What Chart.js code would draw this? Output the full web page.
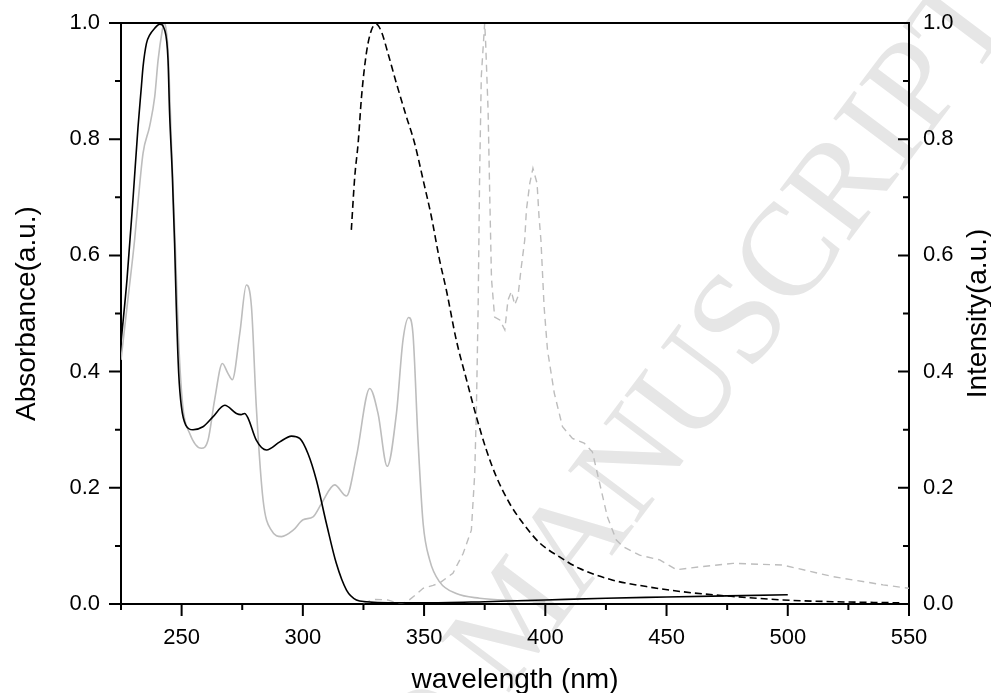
<!DOCTYPE html>
<html>
<head>
<title>Absorbance and emission spectra</title>
<script src="https://cdn.jsdelivr.net/npm/chart.js"></script>
<style>body{margin:0;background:#fff}</style>
</head>
<body>
<canvas id="spectra" width="991" height="693"></canvas>
<script>
// absorbance, black solid
const absBlackNm = [225, 227.5, 230, 232, 233.4, 234.1, 235.5, 236.8, 238.9, 241, 243, 244.4, 245, 246.2, 247.1, 247.8, 248.8, 249.9, 251.7, 254.7, 258.8, 262.9, 267.8, 272.6, 274.5, 276, 277.4, 280.8, 285, 290.5, 295.3, 298.7, 302.1, 305.6, 309.7, 313.8, 318, 322.1, 326.2, 335, 350, 375, 400, 425, 450, 475, 500];
const absBlack = [0.45, 0.56, 0.70, 0.82, 0.89, 0.925, 0.965, 0.979, 0.991, 0.998, 0.988, 0.936, 0.85, 0.735, 0.621, 0.512, 0.397, 0.34, 0.308, 0.300, 0.305, 0.322, 0.342, 0.328, 0.326, 0.328, 0.32, 0.282, 0.265, 0.279, 0.289, 0.285, 0.259, 0.213, 0.139, 0.07, 0.024, 0.007, 0.004, 0.002, 0.002, 0.004, 0.007, 0.010, 0.012, 0.014, 0.016];

// absorbance, grey solid
const absGreyNm = [225, 228, 230.6, 232, 234.1, 236.8, 238.9, 240.3, 242, 242.7, 243.4, 244.4, 245.8, 247.6, 248.8, 250.5, 253.3, 258.2, 260.9, 263.6, 266.8, 269.1, 270.9, 274, 276.7, 278.8, 280.8, 283.6, 287, 291.2, 296, 300.1, 304.2, 307.7, 313.1, 318, 322.1, 327.6, 331, 334.8, 338.6, 341.3, 343.7, 345.4, 347.5, 349.6, 352.3, 356.4, 363.3, 372.9, 386.7, 400];
const absGrey = [0.42, 0.53, 0.626, 0.69, 0.776, 0.822, 0.873, 0.936, 0.987, 1.0, 0.994, 0.953, 0.793, 0.592, 0.45, 0.34, 0.294, 0.268, 0.282, 0.351, 0.414, 0.397, 0.386, 0.466, 0.549, 0.512, 0.34, 0.179, 0.127, 0.116, 0.127, 0.145, 0.150, 0.173, 0.205, 0.186, 0.254, 0.371, 0.328, 0.237, 0.328, 0.454, 0.493, 0.466, 0.282, 0.139, 0.076, 0.038, 0.018, 0.010, 0.006, 0.004];

// emission, black dashed
const emBlackNm = [320, 321.4, 322.8, 324.2, 326.2, 328.3, 330.3, 332.4, 335.1, 338.6, 342.7, 346.1, 349.6, 353, 356.4, 359.2, 363.3, 367.5, 371.6, 375.7, 379.8, 385.3, 390.8, 397.7, 405.9, 414.2, 427.9, 441.7, 456.8, 477.4, 498, 518.6, 546];
const emBlack = [0.644, 0.735, 0.793, 0.873, 0.948, 0.988, 0.998, 0.985, 0.948, 0.896, 0.839, 0.793, 0.73, 0.667, 0.592, 0.54, 0.454, 0.386, 0.322, 0.265, 0.219, 0.173, 0.139, 0.105, 0.081, 0.061, 0.041, 0.03, 0.021, 0.013, 0.007, 0.004, 0.002];

// emission, grey dashed
const emGreyNm = [325, 330, 335, 340, 343, 346.6, 349.6, 353.7, 356.4, 361.9, 366.1, 369.5, 370.9, 371.6, 372.3, 372.9, 373.6, 375, 375.4, 376.4, 377.1, 377.8, 379.1, 381.2, 383.3, 384.6, 386, 387.4, 388.7, 390.1, 391.5, 392.2, 393.6, 394.9, 396.6, 397.4, 398.2, 399.5, 400.9, 403.7, 407.1, 411.2, 416, 419.4, 422.4, 425.6, 429.3, 432, 438.9, 447.2, 454.1, 463.7, 477.4, 498, 518.7, 539.3, 550];
const emGrey = [0.002, 0.008, 0.007, 0.0, 0.004, 0.016, 0.027, 0.032, 0.036, 0.053, 0.087, 0.127, 0.225, 0.34, 0.512, 0.735, 0.908, 1.0, 0.965, 0.85, 0.70, 0.56, 0.494, 0.489, 0.472, 0.523, 0.538, 0.515, 0.529, 0.58, 0.626, 0.678, 0.724, 0.75, 0.724, 0.667, 0.626, 0.512, 0.437, 0.363, 0.305, 0.285, 0.277, 0.262, 0.208, 0.15, 0.11, 0.099, 0.084, 0.076, 0.059, 0.064, 0.07, 0.067, 0.047, 0.033, 0.027];

const xTicks = [225, 250, 275, 300, 325, 350, 375, 400, 425, 450, 475, 500, 525, 550];
const yTicks = [0, 0.1, 0.2, 0.3, 0.4, 0.5, 0.6, 0.7, 0.8, 0.9, 1.0];

const pts = (xs, ys) => xs.map((x, i) => ({x: x, y: ys[i]}));
const FONT = '"Liberation Sans", Arial, sans-serif';

const framePlugin = {
    id: 'frame',
    beforeDraw(chart) {
        // faint watermark under everything else
        const ctx = chart.ctx;
        ctx.save();
        ctx.translate(735, 335);
        ctx.rotate(-53 * Math.PI / 180);
        ctx.font = '132px "Liberation Serif", "DejaVu Serif", serif';
        ctx.fillStyle = '#e6e6e6';
        ctx.textBaseline = 'middle';
        ctx.textAlign = 'right';
        const half = ctx.measureText('MANUSCRIPT').width / 2;
        ctx.fillText('ACCEPTED MANUSCRIPT', half, 0);
        ctx.restore();
    },
    afterDraw(chart) {
        const {ctx, chartArea: a, scales} = chart;
        ctx.save();
        ctx.strokeStyle = '#000';
        ctx.lineWidth = 2;
        ctx.beginPath();
        ctx.moveTo(a.left - 1, a.top);
        ctx.lineTo(a.right + 1, a.top);
        xTicks.forEach(v => {
            const px = scales.x.getPixelForValue(v);
            const len = v % 50 === 0 ? 12 : 6;
            ctx.moveTo(px, a.bottom);
            ctx.lineTo(px, a.bottom + len);
        });
        yTicks.forEach((v, i) => {
            const py = scales.y.getPixelForValue(v);
            ctx.moveTo(a.left, py);
            ctx.lineTo(a.left - (i % 2 === 0 ? 12 : 6), py);
            const py2 = scales.y2.getPixelForValue(v);
            ctx.moveTo(a.right, py2);
            ctx.lineTo(a.right - (i % 2 === 0 ? 11 : 6), py2);
        });
        ctx.stroke();

        // axis titles
        ctx.fillStyle = '#000';
        ctx.font = '28px ' + FONT;
        ctx.textAlign = 'center';
        ctx.textBaseline = 'alphabetic';
        ctx.fillText('wavelength (nm)', (a.left + a.right) / 2, 688);
        const midY = (a.top + a.bottom) / 2;
        ctx.save();
        ctx.translate(35, midY);
        ctx.rotate(-Math.PI / 2);
        ctx.fillText('Absorbance(a.u.)', 0, 0);
        ctx.restore();
        ctx.save();
        ctx.translate(986, midY);
        ctx.rotate(-Math.PI / 2);
        ctx.fillText('Intensity(a.u.)', 0, 0);
        ctx.restore();
        ctx.restore();
    }
};

const yLabel = v => Math.round(v * 10) % 2 === 0 ? v.toFixed(1) : '';
// fixed axis boxes so the plot area sits where the original has it
const fixY = w => s => { s.width = w; s.paddingTop = 0; s.paddingBottom = 0; };

new Chart(document.getElementById('spectra'), {
    type: 'line',
    data: {
        datasets: [
            {data: pts(absBlackNm, absBlack), yAxisID: 'y', borderColor: '#000', borderWidth: 1.6, cubicInterpolationMode: 'monotone'},
            {data: pts(absGreyNm, absGrey), yAxisID: 'y', borderColor: '#bdbdbd', borderWidth: 1.6, cubicInterpolationMode: 'monotone'},
            {data: pts(emBlackNm, emBlack), yAxisID: 'y2', borderColor: '#000', borderWidth: 1.6, borderDash: [7, 4], cubicInterpolationMode: 'monotone'},
            {data: pts(emGreyNm, emGrey), yAxisID: 'y2', borderColor: '#bdbdbd', borderWidth: 1.4, borderDash: [7, 5], tension: 0}
        ]
    },
    options: {
        responsive: false,
        animation: false,
        devicePixelRatio: 1,
        layout: {padding: {top: 23, left: 0, right: 0, bottom: 0}},
        elements: {point: {radius: 0}},
        plugins: {legend: {display: false}, tooltip: {enabled: false}},
        scales: {
            x: {
                type: 'linear', min: 225, max: 550,
                afterBuildTicks: s => { s.ticks = xTicks.map(v => ({value: v})); },
                afterFit: s => { s.height = 89; s.paddingLeft = 0; s.paddingRight = 0; },
                grid: {display: false, drawTicks: false},
                border: {display: true, color: '#000', width: 2},
                ticks: {autoSkip: false, maxRotation: 0, padding: 21, color: '#000', font: {family: FONT, size: 22},
                    callback: v => v % 50 === 0 ? String(v) : ''}
            },
            y: {
                position: 'left', min: 0, max: 1,
                afterBuildTicks: s => { s.ticks = yTicks.map(v => ({value: v})); },
                afterFit: fixY(121),
                grid: {display: false, drawTicks: false},
                border: {display: true, color: '#000', width: 2},
                ticks: {autoSkip: false, padding: 21, color: '#000', font: {family: FONT, size: 22}, callback: yLabel}
            },
            y2: {
                position: 'right', min: 0, max: 1,
                afterBuildTicks: s => { s.ticks = yTicks.map(v => ({value: v})); },
                afterFit: fixY(82),
                grid: {display: false, drawTicks: false},
                border: {display: true, color: '#000', width: 2},
                ticks: {autoSkip: false, padding: 14, color: '#000', font: {family: FONT, size: 22}, callback: yLabel}
            }
        }
    },
    plugins: [framePlugin]
});
</script>
</body>
</html>
